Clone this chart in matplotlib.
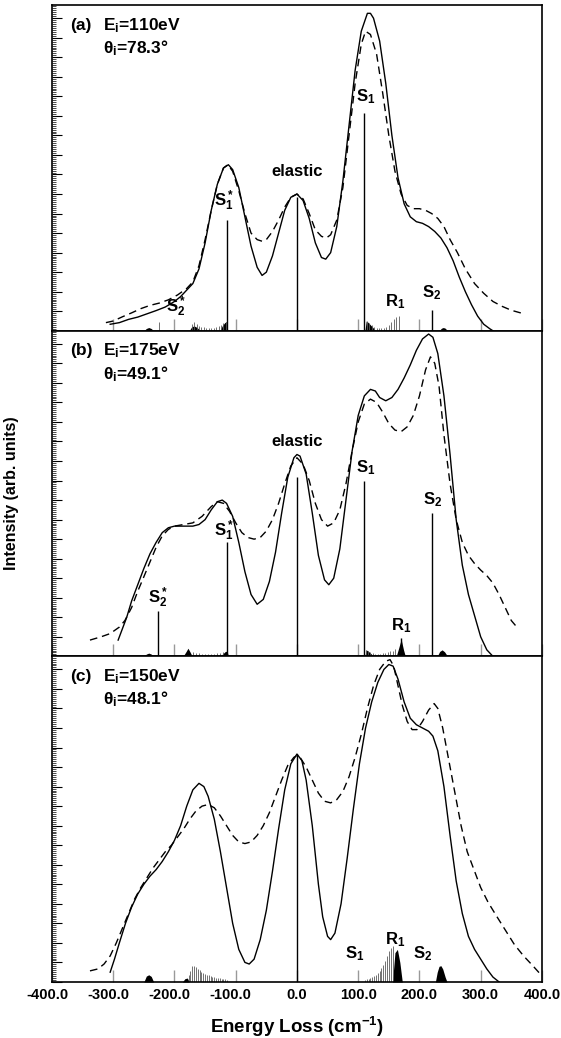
import matplotlib
matplotlib.use('Agg')
import matplotlib.pyplot as plt
import matplotlib.transforms as mtransforms
from matplotlib.ticker import MultipleLocator, FormatStrFormatter

plt.rcParams['font.family'] = ['Liberation Sans', 'DejaVu Sans']
plt.rcParams['font.weight'] = 'bold'
plt.rcParams['mathtext.fontset'] = 'custom'
plt.rcParams['mathtext.rm'] = 'Liberation Sans:bold'
plt.rcParams['mathtext.bf'] = 'Liberation Sans:bold'
plt.rcParams['mathtext.it'] = 'Liberation Sans:bold'
plt.rcParams['mathtext.default'] = 'rm'
plt.rcParams['axes.unicode_minus'] = False

# ---- panel (a): Ei=110eV, theta=78.3 ----
a_solid_x = [-305, -290, -275, -260, -245, -230, -215, -200, -190, -180, -170, -160, -150, -140, -130,
             -120, -112, -105, -95, -85, -75, -65, -57, -50, -40, -30, -20, -10, 0, 10, 20, 30, 40, 47,
             55, 65, 75, 85, 95, 105, 115, 120, 125, 135, 145, 155, 165, 175, 185, 195, 205, 215, 225,
             235, 245, 255, 265, 275, 285, 295, 305, 315, 320]
a_solid_y = [2, 2.5, 3.5, 4.2, 5.2, 6.2, 7.3, 9, 10.5, 12.5, 14.5, 19, 27, 37, 45,
             50, 51, 49.5, 44, 35, 26, 19.5, 17, 18, 23, 30, 37, 41, 42, 40, 34.5, 27, 22.5, 22,
             24, 32, 46, 63, 80, 92, 97.5, 97.5, 96, 89, 76, 60, 47, 39, 35, 33.5, 33, 32, 30.5,
             28.5, 25.5, 21.5, 16.5, 12, 8, 4.5, 2, 0.6, 0]
a_dash_x = [-312, -300, -285, -270, -255, -240, -225, -210, -195, -180, -170, -160, -150, -140, -130,
            -120, -113, -105, -95, -85, -75, -65, -57, -50, -40, -30, -20, -10, 0, 10, 20, 30, 40, 48,
            55, 65, 75, 85, 95, 105, 112, 120, 130, 140, 150, 160, 170, 180, 190, 200, 210, 220, 230,
            240, 250, 262, 275, 290, 305, 320, 335, 350, 365, 372]
a_dash_y = [2.5, 3, 4.3, 5.5, 6.8, 7.8, 8.5, 9.5, 11, 13, 15, 20, 28, 37, 45,
            50, 51, 49, 43, 36, 30, 28, 27.5, 28, 30.5, 34, 38, 41, 42, 40.5, 36, 31, 29, 28.5,
            29.5, 34, 44, 60, 76, 88, 92, 91, 85, 73, 60, 49, 42, 38.5, 37.5, 37.5, 37, 36, 34.5,
            32, 28, 24, 19, 14.5, 11.5, 9, 7.5, 6.3, 5.5, 5]
a_stick_x = [-114, 0, 110, 220]
a_stick_y = [34, 41, 67, 6.5]
a_comb_x = [-225, -172, -168, -164, -160, -156, -152, -148, -144, -140, -136, -132, -128, -124, -120, -116,
            114, 118, 122, 126, 130, 134, 138, 142, 146, 150, 154, 158, 162, 166]
a_comb_y = [2.8, 2.2, 2.6, 2.0, 1.6, 1.3, 1.1, 1.0, 0.9, 0.9, 1.0, 1.1, 1.4, 1.8, 2.4, 2.8,
            3.0, 2.4, 1.8, 1.3, 1.0, 0.9, 0.9, 1.0, 1.3, 1.8, 2.6, 3.6, 4.2, 4.4]
a_fills = [([-250, -246, -242, -238, -234], [0, 0.7, 1.0, 0.7, 0]),
           ([-176, -172, -168, -163, -158], [0, 1.2, 1.5, 1.0, 0]),
           ([-126, -122, -118, -115, -113], [0, 1.5, 2.5, 2.8, 0]),
           ([111, 113, 116, 120, 124, 128], [0, 3.0, 2.6, 1.8, 1.0, 0]),
           ([232, 236, 239, 242, 246], [0, 0.8, 1.0, 0.8, 0])]
a_labels = [(r'S$_1^*$', -120, 40), ('elastic', 0, 49), (r'S$_1$', 112, 72),
            (r'S$_2$', 220, 11.7), (r'R$_1$', 160, 9), (r'S$_2^*$', -197, 7.4)]

# ---- panel (b): Ei=175eV, theta=49.1 ----
b_solid_x = [-292, -285, -278, -270, -260, -250, -240, -230, -220, -210, -200, -190, -180, -170, -160,
             -150, -140, -130, -122, -115, -105, -95, -85, -75, -65, -55, -45, -35, -25, -15, -5, 0, 5,
             15, 25, 35, 45, 52, 60, 70, 80, 90, 100, 110, 120, 128, 135, 145, 155, 165, 175, 185, 195,
             205, 215, 222, 230, 240, 250, 260, 270, 280, 290, 300, 310, 320]
b_solid_y = [5, 8.5, 12, 17, 22, 27, 31.5, 35, 38, 39.5, 40, 40, 40, 40, 40.5,
             42, 45, 47.5, 48, 47, 43, 35, 26, 19, 16, 17.5, 23, 32, 44, 55, 61, 62, 61.5,
             56, 44, 31, 23.5, 22, 24, 33, 48, 63, 74, 80, 82, 81.5, 79.5, 78.5, 79.5, 82, 85.5, 89.5, 94,
             97.5, 99, 98, 93, 80, 62, 42, 28, 19, 12.5, 6, 2, 0]
b_dash_x = [-338, -320, -305, -290, -281, -270, -260, -251, -240, -230, -220, -210, -200, -185, -170,
            -155, -140, -130, -120, -110, -100, -90, -80, -70, -60, -50, -40, -30, -20, -10, 0, 10, 20,
            30, 40, 50, 60, 70, 80, 90, 100, 110, 120, 130, 140, 150, 160, 170, 180, 190, 200, 210, 218,
            225, 232, 240, 250, 260, 270, 280, 290, 300, 310, 320, 330, 340, 350, 359]
b_dash_y = [5, 6, 7, 9, 11, 15, 20, 24, 29, 33.5, 37, 39, 40, 40.5, 41,
            43, 46, 47.5, 47, 44.5, 41, 38, 36.5, 36, 36.5, 38.5, 42, 47, 53, 58.5, 61, 59, 54,
            47, 42, 40, 41, 45, 53, 63, 72, 77.5, 79, 78, 75, 71.5, 69.5, 69, 70.5, 74, 80, 88, 92,
            90, 83, 68, 53, 42, 35, 31, 28.5, 26.5, 24.8, 22.5, 19, 15, 11, 9]
b_stick_x = [-227, -114, 0, 110, 220, 170]
b_stick_y = [14, 35, 55, 54, 44, 5.7]
b_comb_x = [-170, -165, -160, -155, -150, -145, -140, -135, -130, -125, -120,
            112, 116, 120, 124, 128, 132, 136, 140, 144, 148, 152, 156, 160]
b_comb_y = [1.2, 1.0, 0.9, 0.8, 0.7, 0.7, 0.7, 0.8, 0.9, 1.0, 1.3,
            2.0, 1.6, 1.2, 1.0, 0.8, 0.8, 0.8, 0.9, 1.0, 1.2, 1.5, 1.8, 2.2]
b_fills = [([-250, -246, -242, -238, -234], [0, 0.7, 1.0, 0.7, 0]),
           ([-186, -181, -178, -175, -171], [0, 1.5, 2.5, 1.5, 0]),
           ([-125, -121, -117, -114, -112], [0, 0.8, 1.5, 1.6, 0]),
           ([111, 113, 117, 121, 125], [0, 2.0, 1.5, 0.8, 0]),
           ([162, 166, 169, 170, 171, 174, 177], [0, 2.5, 4.5, 5.7, 4.5, 2.0, 0]),
           ([229, 233, 237, 241, 246], [0, 1.5, 2.0, 1.4, 0])]
b_labels = [(r'S$_2^*$', -227, 18), (r'S$_1^*$', -120, 38.6), ('elastic', 0, 66),
            (r'S$_1$', 113, 58), (r'S$_2$', 222, 48), (r'R$_1$', 170, 9.5)]

# ---- panel (c): Ei=150eV, theta=48.1 ----
c_solid_x = [-305, -298, -290, -280, -270, -260, -250, -240, -230, -220, -210, -200, -190, -180, -170,
             -160, -152, -145, -135, -125, -115, -105, -95, -85, -78, -70, -60, -50, -40, -30, -20, -10,
             0, 8, 15, 25, 35, 42, 50, 55, 62, 72, 82, 92, 102, 112, 122, 132, 142, 150, 157, 165, 175,
             185, 195, 205, 215, 222, 230, 240, 250, 260, 270, 280, 290, 300, 310, 320, 330]
c_solid_y = [3, 7, 12, 18, 23, 27, 30, 32.5, 34.5, 37, 40, 43.5, 48, 54, 59,
             61, 60, 57, 50, 40, 29, 18, 10, 6, 5.5, 7, 13, 22, 34, 47, 59, 67,
             70, 68, 62, 48, 30, 20, 14, 13, 15, 24, 38, 53, 67, 78, 86, 92, 96, 97.5, 97, 93, 86,
             81, 79, 78, 77, 75.5, 71, 60, 45, 31, 21, 14, 10, 7, 4, 1.5, 0]
c_dash_x = [-338, -325, -315, -305, -295, -285, -275, -265, -255, -245, -235, -225, -215, -205, -195,
            -185, -175, -165, -155, -145, -135, -125, -115, -105, -95, -85, -75, -65, -55, -45, -35, -25,
            -15, -5, 0, 5, 15, 25, 35, 45, 55, 65, 75, 85, 95, 105, 115, 125, 135, 145, 152, 158, 165,
            172, 180, 188, 196, 205, 215, 224, 230, 238, 248, 258, 268, 278, 290, 300, 312, 325, 340,
            355, 370, 385, 397]
c_dash_y = [3.4, 4, 5.5, 8, 12, 16.5, 21, 25.5, 29, 32, 35, 37.5, 40, 42, 44.5,
            47, 50, 52.5, 54, 54.5, 53.5, 51, 48, 45, 43, 42.5, 43, 45, 48, 52, 57, 62,
            66.5, 69, 69.5, 69, 66, 62, 58, 55.5, 55, 56, 58.5, 63, 69, 76, 84, 91, 96, 98.5, 99, 97, 91,
            85, 80, 77.5, 77.5, 80, 83.5, 85.5, 84, 78, 68, 58, 48, 40, 34, 29, 24.5, 20.5, 16,
            11.5, 8, 5, 2.5]
c_stick_x = [0]
c_stick_y = [70]
c_comb_x = [-177, -174, -171, -168, -165, -162, -159, -156, -153, -150, -147, -144, -141, -138, -135,
            -132, -129, -126, -123, -120, -117, -114,
            111, 114, 117, 120, 123, 126, 129, 132, 135, 138, 141, 144, 147, 150, 153, 156]
c_comb_y = [2, 3.5, 5, 4.8, 4.5, 4, 3.6, 3.2, 2.8, 2.5, 2.2, 2, 1.8, 1.6, 1.4,
            1.3, 1.2, 1.1, 1, 0.9, 0.8, 0.7,
            0.7, 0.8, 1.0, 1.2, 1.5, 1.8, 2.2, 2.8, 3.5, 4.3, 5.2, 6.5, 8, 9.5, 10.5, 11]
c_fills = [([-250, -246, -242, -238, -234], [0, 1.8, 2.2, 1.7, 0]),
           ([-187, -183, -179, -176], [0, 1.0, 1.2, 0]),
           ([156, 160, 164, 168, 172], [0, 9, 10, 6, 0]),
           ([226, 229, 232, 235, 238, 242, 245], [0, 3.0, 4.8, 5.0, 4.0, 1.5, 0])]
c_labels = [(r'S$_1$', 95, 8.7), (r'R$_1$', 160, 13), (r'S$_2$', 205, 8.7)]

panel_tags = ['(a)', '(b)', '(c)']
panel_energy = ['110', '175', '150']
panel_angle = ['78.3', '49.1', '48.1']

panels = [
    (a_solid_x, a_solid_y, a_dash_x, a_dash_y, a_stick_x, a_stick_y, a_comb_x, a_comb_y, a_fills, a_labels),
    (b_solid_x, b_solid_y, b_dash_x, b_dash_y, b_stick_x, b_stick_y, b_comb_x, b_comb_y, b_fills, b_labels),
    (c_solid_x, c_solid_y, c_dash_x, c_dash_y, c_stick_x, c_stick_y, c_comb_x, c_comb_y, c_fills, c_labels),
]

fig = plt.figure(figsize=(5.61, 10.38), dpi=100)
gs = fig.add_gridspec(3, 1, left=0.0927, right=0.966, top=0.995, bottom=0.054, hspace=0)

for i, (sx, sy, dx, dy, kx, ky, cx, cy, fills, labels) in enumerate(panels):
    ax = fig.add_subplot(gs[i])
    ax.plot(sx, sy, color='black', lw=1.0)
    ax.plot(dx, dy, color='black', lw=1.0, dashes=(5.5, 3.5))
    ax.vlines(kx, 0, ky, color='black', lw=1.0)
    ax.vlines(cx, 0, cy, color='0.35', lw=0.6)
    for fx, fy in fills:
        ax.fill_between(fx, 0, fy, color='black', lw=0)
    for txt, lx, ly in labels:
        ax.text(lx, ly, txt, ha='center', va='center', fontsize=12, fontweight='bold')

    ax.text(0.037, 0.938, panel_tags[i], transform=ax.transAxes, ha='left', va='center',
            fontsize=12.5, fontweight='bold')
    ax.text(0.104, 0.938, r'E$_i$=' + panel_energy[i] + 'eV', transform=ax.transAxes,
            ha='left', va='center', fontsize=12.5, fontweight='bold')
    ax.text(0.104, 0.868, r'θ$_i$=' + panel_angle[i] + '°', transform=ax.transAxes,
            ha='left', va='center', fontsize=12.5, fontweight='bold')

    ax.set_xlim(-400, 400)
    ax.set_ylim(0, 100)
    ax.xaxis.set_major_locator(MultipleLocator(100))
    ax.xaxis.set_major_formatter(FormatStrFormatter('%.1f'))
    ax.tick_params(axis='x', direction='in', length=9, width=1.0, color='0.6', pad=4,
                   labelsize=10.5, top=False)
    ax.yaxis.set_major_locator(MultipleLocator(6))
    ax.yaxis.set_minor_locator(MultipleLocator(0.6))
    ax.tick_params(axis='y', which='major', direction='in', length=7, width=0.8, labelleft=False)
    ax.tick_params(axis='y', which='minor', direction='in', length=3, width=0.5)
    for sp in ax.spines.values():
        sp.set_linewidth(1.2)
    if i < 2:
        ax.tick_params(axis='x', labelbottom=False)
    else:
        # negative labels sit a little left of their tick in the original
        shift = mtransforms.ScaledTranslation(-5 / 100, 0, fig.dpi_scale_trans)
        for lab in ax.get_xticklabels():
            lab.set_fontweight('bold')
            if lab.get_text().startswith('-'):
                lab.set_transform(lab.get_transform() + shift)

fig.text(0.021, 0.525, 'Intensity (arb. units)', rotation=90, ha='center', va='center',
         fontsize=11.5, fontweight='bold')
fig.text(0.53, 0.0106, r'Energy Loss (cm$^{-1}$)', ha='center', va='center',
         fontsize=13.5, fontweight='bold')

fig.savefig('out.png', dpi=100)
